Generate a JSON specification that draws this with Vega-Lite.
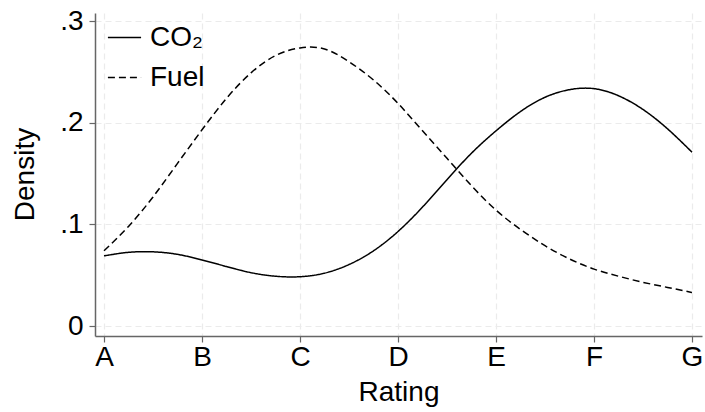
{
  "$schema": "https://vega.github.io/schema/vega-lite/v6.json",
  "width": 607,
  "height": 323,
  "autosize": "none",
  "padding": {"left": 95, "top": 13, "right": 3, "bottom": 76},
  "background": "white",
  "config": {
    "font": "Liberation Sans",
    "view": {"stroke": null},
    "axis": {
      "labelFont": "Liberation Sans",
      "titleFont": "Liberation Sans",
      "labelColor": "black",
      "titleColor": "black",
      "titleFontWeight": "normal",
      "domainColor": "#666666",
      "domainWidth": 1.5,
      "tickColor": "#666666",
      "tickWidth": 1.2,
      "tickSize": 6,
      "gridColor": "#ebebeb",
      "gridDash": [6, 4],
      "gridWidth": 1.2
    }
  },
  "data": {
    "values": [
      {"rating": 1.0, "density": 0.069, "series": "CO₂"},
      {"rating": 1.25, "density": 0.0725, "series": "CO₂"},
      {"rating": 1.5, "density": 0.073, "series": "CO₂"},
      {"rating": 1.75, "density": 0.0705, "series": "CO₂"},
      {"rating": 2.0, "density": 0.065, "series": "CO₂"},
      {"rating": 2.25, "density": 0.0585, "series": "CO₂"},
      {"rating": 2.5, "density": 0.0525, "series": "CO₂"},
      {"rating": 2.75, "density": 0.049, "series": "CO₂"},
      {"rating": 3.0, "density": 0.0485, "series": "CO₂"},
      {"rating": 3.25, "density": 0.052, "series": "CO₂"},
      {"rating": 3.5, "density": 0.0605, "series": "CO₂"},
      {"rating": 3.75, "density": 0.074, "series": "CO₂"},
      {"rating": 4.0, "density": 0.093, "series": "CO₂"},
      {"rating": 4.25, "density": 0.117, "series": "CO₂"},
      {"rating": 4.5, "density": 0.144, "series": "CO₂"},
      {"rating": 4.75, "density": 0.17, "series": "CO₂"},
      {"rating": 5.0, "density": 0.192, "series": "CO₂"},
      {"rating": 5.25, "density": 0.211, "series": "CO₂"},
      {"rating": 5.5, "density": 0.225, "series": "CO₂"},
      {"rating": 5.75, "density": 0.2325, "series": "CO₂"},
      {"rating": 6.0, "density": 0.2335, "series": "CO₂"},
      {"rating": 6.25, "density": 0.2265, "series": "CO₂"},
      {"rating": 6.5, "density": 0.213, "series": "CO₂"},
      {"rating": 6.75, "density": 0.194, "series": "CO₂"},
      {"rating": 7.0, "density": 0.171, "series": "CO₂"},
      {"rating": 1.0, "density": 0.074, "series": "Fuel"},
      {"rating": 1.25, "density": 0.098, "series": "Fuel"},
      {"rating": 1.5, "density": 0.127, "series": "Fuel"},
      {"rating": 1.75, "density": 0.16, "series": "Fuel"},
      {"rating": 2.0, "density": 0.193, "series": "Fuel"},
      {"rating": 2.25, "density": 0.224, "series": "Fuel"},
      {"rating": 2.5, "density": 0.249, "series": "Fuel"},
      {"rating": 2.75, "density": 0.266, "series": "Fuel"},
      {"rating": 3.0, "density": 0.2735, "series": "Fuel"},
      {"rating": 3.25, "density": 0.2725, "series": "Fuel"},
      {"rating": 3.5, "density": 0.26, "series": "Fuel"},
      {"rating": 3.75, "density": 0.242, "series": "Fuel"},
      {"rating": 4.0, "density": 0.219, "series": "Fuel"},
      {"rating": 4.25, "density": 0.192, "series": "Fuel"},
      {"rating": 4.5, "density": 0.165, "series": "Fuel"},
      {"rating": 4.75, "density": 0.138, "series": "Fuel"},
      {"rating": 5.0, "density": 0.114, "series": "Fuel"},
      {"rating": 5.25, "density": 0.095, "series": "Fuel"},
      {"rating": 5.5, "density": 0.079, "series": "Fuel"},
      {"rating": 5.75, "density": 0.066, "series": "Fuel"},
      {"rating": 6.0, "density": 0.056, "series": "Fuel"},
      {"rating": 6.25, "density": 0.049, "series": "Fuel"},
      {"rating": 6.5, "density": 0.043, "series": "Fuel"},
      {"rating": 6.75, "density": 0.038, "series": "Fuel"},
      {"rating": 7.0, "density": 0.033, "series": "Fuel"}
    ]
  },
  "mark": {"type": "line", "interpolate": "natural", "color": "black", "strokeWidth": 1.5},
  "encoding": {
    "x": {
      "field": "rating",
      "type": "quantitative",
      "scale": {"domain": [0.908, 7.102], "nice": false, "zero": false},
      "axis": {
        "values": [1, 2, 3, 4, 5, 6, 7],
        "labelExpr": "['A','B','C','D','E','F','G'][datum.value - 1]",
        "labelFontSize": 28,
        "labelPadding": 1,
        "title": "Rating",
        "titleFontSize": 28,
        "titlePadding": 7
      }
    },
    "y": {
      "field": "density",
      "type": "quantitative",
      "scale": {"domain": [-0.0098, 0.3079], "nice": false, "zero": false},
      "axis": {
        "values": [0, 0.1, 0.2, 0.3],
        "labelExpr": "datum.value == 0 ? '0' : '.' + round(datum.value * 10)",
        "labelFontSize": 28,
        "labelPadding": 6,
        "title": "Density",
        "titleFontSize": 28,
        "titleX": -70,
        "titleY": 161,
        "titleAngle": -90,
        "titleAlign": "center",
        "titleBaseline": "middle"
      }
    },
    "strokeDash": {
      "field": "series",
      "type": "nominal",
      "scale": {"domain": ["CO₂", "Fuel"], "range": [[1, 0], [7, 4]]},
      "legend": {
        "orient": "none",
        "legendX": 12,
        "legendY": 7,
        "title": null,
        "symbolType": "stroke",
        "symbolSize": 1100,
        "symbolStrokeWidth": 1.5,
        "symbolStrokeColor": "black",
        "labelFontSize": 28,
        "labelFont": "Liberation Sans",
        "labelColor": "black",
        "labelOffset": 8,
        "rowPadding": 8,
        "padding": 0
      }
    }
  }
}
